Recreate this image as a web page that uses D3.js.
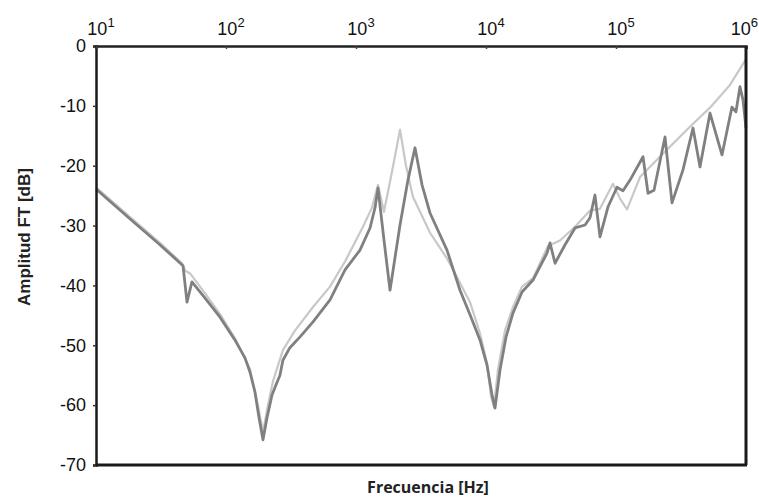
<!DOCTYPE html>
<html>
<head>
<meta charset="utf-8">
<script src="https://cdn.jsdelivr.net/npm/d3@7"></script>
<style>
  body { margin: 0; background: #fff; }
  svg { display: block; }
</style>
</head>
<body>
<div id="chart"></div>
<script>
// frequency (Hz) / amplitude (dB)
var darkFreq = [10, 18.3, 31, 46.7, 50.1, 54.7, 68.8, 89.9, 117, 140, 153, 167, 179.5, 192.6, 206.7,
  225.9, 242.6, 260, 274, 310, 371, 467, 631, 823, 1073, 1282, 1401, 1477, 1641, 1827, 2180, 2510,
  2843, 3220, 3710, 5010, 6310, 7535, 8990, 10180, 11130, 11730, 12820, 14260, 16140, 18930, 23000,
  29460, 31060, 33970, 40550, 48400, 57800, 63100, 68900, 75300, 86700, 101800, 113200, 128200,
  161400, 176300, 196000, 238200, 269700, 327500, 391000, 442800, 528500, 653500, 779700, 837200,
  899000, 948000, 1000000];
var darkAmp = [-23.9, -28.9, -33.2, -36.7, -42.8, -39.4, -42.1, -45.3, -49.1, -52.1, -54.5, -57.8, -62.1,
  -65.8, -62.1, -58.3, -56.6, -55.0, -52.5, -50.4, -48.6, -46.1, -42.4, -37.4, -34.1, -30.4, -27.0,
  -23.7, -32.4, -40.8, -29.9, -22.4, -17.0, -23.2, -27.9, -34.1, -40.8, -44.9, -49.1, -53.3, -58.3,
  -60.5, -54.1, -48.6, -44.6, -41.1, -39.1, -34.6, -32.9, -36.3, -33.2, -30.4, -29.9, -28.7, -24.9,
  -31.9, -26.9, -23.6, -24.2, -22.4, -18.5, -24.6, -24.1, -15.2, -26.2, -20.7, -13.7, -20.2, -11.2,
  -18.2, -10.2, -11.0, -6.8, -9.0, -13.7];

var lightFreq = [10, 18.3, 31, 45.9, 48.4, 52.9, 68.8, 89.9, 117, 153, 176, 192.6, 210, 230, 274, 340,
  467, 631, 823, 1132, 1327, 1477, 1641, 1892, 2180, 2425, 2740, 3710, 5010, 5980, 7535, 8990, 10180,
  10920, 11520, 12370, 14000, 16140, 18930, 23000, 30000, 37070, 48400, 63100, 75300, 94800, 107400,
  121600, 153000, 217600, 370400, 528500, 753000, 1000000];
var lightAmp = [-23.6, -28.6, -32.9, -36.3, -37.5, -38.0, -41.3, -44.8, -48.8, -54.0, -60.0, -64.5, -60.0,
  -56.0, -50.8, -47.5, -43.6, -40.2, -36.0, -30.2, -27.0, -23.2, -27.7, -21.0, -14.0, -20.0, -25.2,
  -31.2, -35.5, -38.6, -42.8, -48.0, -53.0, -58.5, -60.3, -54.0, -47.5, -43.6, -40.2, -38.8, -33.4,
  -32.5, -30.2, -27.5, -27.2, -23.0, -25.5, -27.3, -21.9, -18.5, -13.5, -10.3, -6.5, -2.2];

var xDecades = [1, 2, 3, 4, 5, 6];
var yTicks = [0, -10, -20, -30, -40, -50, -60, -70];

var width = 759, height = 497,
    margin = {top: 46, right: 13, bottom: 32, left: 96};

var svg = d3.select("#chart").append("svg")
    .attr("width", width)
    .attr("height", height);

var x = d3.scaleLog()
    .domain([10, 1e6])
    .range([margin.left, width - margin.right]);

var y = d3.scaleLinear()
    .domain([-70, 0])
    .range([height - margin.bottom, margin.top]);

var line = d3.line()
    .x(function(d){ return x(d[0]); })
    .y(function(d){ return y(d[1]); });

var light = d3.zip(lightFreq, lightAmp),
    dark = d3.zip(darkFreq, darkAmp);

// curves (light first, dark above)
svg.append("path")
  .datum(light)
  .attr("d", line)
  .attr("fill", "none")
  .attr("stroke", "#c8c8c8")
  .attr("stroke-width", 2.2)
  .attr("stroke-linejoin", "round");

svg.append("path")
  .datum(dark)
  .attr("d", line)
  .attr("fill", "none")
  .attr("stroke", "#808080")
  .attr("stroke-width", 2.8)
  .attr("stroke-linejoin", "round");

// left axis
var yAxis = svg.append("g")
  .attr("transform", "translate(" + margin.left + ",0)")
  .call(d3.axisLeft(y).tickValues(yTicks).tickSize(3).tickPadding(7)
        .tickFormat(function(d){ return d === 0 ? "0" : "-" + Math.abs(d); }));
yAxis.select(".domain").attr("stroke", "#1a1a1a").attr("stroke-width", 2.5);
yAxis.selectAll(".tick line").attr("stroke", "#333").attr("stroke-width", 1.5);
yAxis.selectAll(".tick text")
  .attr("font-family", "'Liberation Sans', Arial, sans-serif")
  .attr("font-size", 18)
  .attr("fill", "#111");

// top axis, small ticks pointing into the plot
var xAxis = svg.append("g")
  .attr("transform", "translate(0," + margin.top + ")")
  .call(d3.axisTop(x).tickValues(xDecades.map(function(e){ return Math.pow(10, e); }))
        .tickSize(-3).tickFormat(""));
xAxis.select(".domain").attr("stroke", "#222").attr("stroke-width", 2.5);
xAxis.selectAll(".tick line").attr("stroke", "#444").attr("stroke-width", 1.5);

// last label is pushed in so it stays inside the page
var lastDec = xDecades[xDecades.length - 1];
var lbl = svg.append("g").selectAll("text")
  .data(xDecades)
  .enter().append("text")
  .attr("x", function(d){ return d === lastDec ? width - 1 : x(Math.pow(10, d)) + 5; })
  .attr("y", 35)
  .attr("text-anchor", function(d){ return d === lastDec ? "end" : "middle"; })
  .attr("font-family", "'Liberation Sans', Arial, sans-serif")
  .attr("font-size", 18)
  .attr("fill", "#111");
lbl.append("tspan").text("10");
lbl.append("tspan")
  .attr("dy", -8)
  .attr("font-size", 13)
  .text(function(d){ return d; });

// bottom and right frame
var x1 = x.range()[1], y0 = y.range()[0];
svg.append("line")
  .attr("x1", margin.left).attr("x2", x1 + 1)
  .attr("y1", y0).attr("y2", y0)
  .attr("stroke", "#1a1a1a").attr("stroke-width", 3);
svg.append("line")
  .attr("x1", x1).attr("x2", x1)
  .attr("y1", margin.top).attr("y2", y0)
  .attr("stroke", "#1a1a1a").attr("stroke-width", 3);

// axis titles
svg.append("text")
  .attr("transform", "translate(30,237) rotate(-90)")
  .attr("text-anchor", "middle")
  .attr("font-family", "'Liberation Sans', Arial, sans-serif")
  .attr("font-weight", "bold")
  .attr("font-size", 17)
  .attr("fill", "#222")
  .text("Amplitud FT [dB]");

svg.append("text")
  .attr("x", 428)
  .attr("y", 493)
  .attr("text-anchor", "middle")
  .attr("font-family", "'Open Sans', sans-serif")
  .attr("font-weight", "bold")
  .attr("font-size", 16)
  .attr("fill", "#222")
  .text("Frecuencia [Hz]");
</script>
</body>
</html>
